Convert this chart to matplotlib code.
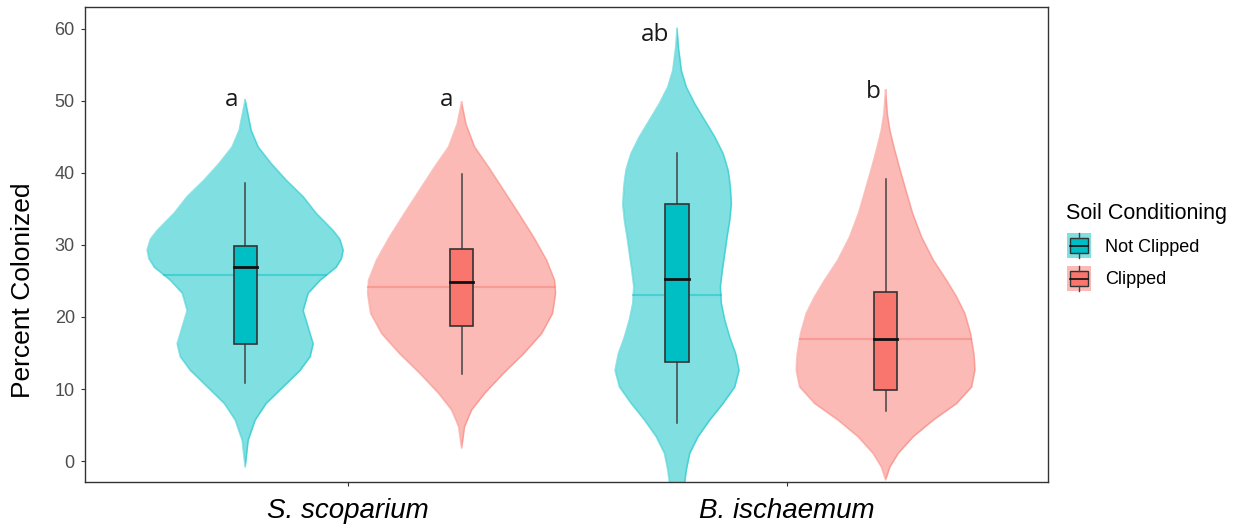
"""
Violin + box plot of percent root colonization by species and soil conditioning
"""
import numpy as np
import matplotlib
matplotlib.use("Agg")
from matplotlib import pyplot as plt
from matplotlib.patches import Rectangle

# Data
SPECIES = ["S. scoparium", "B. ischaemum"]
CONDITIONS = ["Not Clipped", "Clipped"]

# violin outline: y values and relative density (half-width) for each violin
# order: S.sco Not Clipped, S.sco Clipped, B.isc Not Clipped, B.isc Clipped
v1_y = [50.1, 45.9, 43.6, 41.3, 39.0, 36.7, 34.4, 32.0, 30.8, 29.3, 28.1,
        26.9, 25.1, 23.3, 20.9, 18.6, 16.3, 14.5, 12.6, 10.3, 8.0, 5.7,
        2.9, -0.8]
v1_d = [0, 6, 13, 26, 41, 58, 71, 88, 94.7, 98, 96.3,
        91, 75, 63, 58, 63, 68, 65, 55, 38, 21, 10,
        3, 0]

v2_y = [49.8, 46.8, 43.6, 40.8, 37.6, 34.4, 31.1, 27.9, 25.1, 23.3, 20.5,
        17.7, 14.9, 12.2, 9.4, 7.1, 4.8, 1.8]
v2_d = [0, 4.3, 13, 27, 42, 57, 72, 85, 93, 94, 91,
        80, 62, 42, 23, 10, 3, 0]

v3_y = [60.0, 57.5, 54.2, 51.9, 49.6, 47.3, 45.0, 42.7, 41.5, 40.4, 39.2,
        38.0, 35.7, 33.4, 31.1, 28.8, 26.5, 24.2, 21.9, 19.6, 17.2, 14.9,
        12.6, 10.3, 8.0, 5.7, 3.4, 1.1, -1.2, -2.9, -5.0]
v3_d = [0, 1.3, 4.3, 9.3, 17.7, 27.7, 37.7, 46, 48.7, 51, 52.3,
        53.3, 54.3, 52.7, 50, 47.7, 45.3, 43.3, 44.3, 47.7, 52.7, 58.7,
        62, 57.7, 46, 32.7, 21, 12.7, 9.3, 7.7, 5]

v4_y = [51.5, 48.2, 45.9, 43.6, 40.8, 37.6, 34.4, 31.1, 27.9, 25.1, 22.8,
        20.5, 17.7, 14.9, 13.7, 12.6, 10.3, 8.0, 5.7, 3.4, 1.1, -0.8, -2.6]
v4_d = [0, 1.7, 4.3, 8.3, 13.7, 20.3, 27, 36, 47.7, 61, 71,
        79.3, 85, 88.3, 89, 89.3, 86, 71, 47.7, 27.7, 12.7, 4.3, 0]

# box plot stats
whisker_lo = [10.9, 12.1, 5.3, 6.9]
q1 = [16.2, 18.7, 13.8, 9.9]
medians = [26.95, 24.9, 25.3, 17.0]
q3 = [29.9, 29.4, 35.7, 23.4]
whisker_hi = [38.6, 39.8, 42.7, 39.2]
means = [25.8, 24.2, 23.0, 17.0]

letters = ["a", "a", "ab", "b"]
letter_y = [50.1, 50.1, 59.1, 51.2]

# Layout / style
species_idx = [0, 0, 1, 1]
cond_idx = [0, 1, 0, 1]
DODGE = [-0.234, 0.259, -0.250, 0.225]
LETTER_DX = [-0.030, -0.033, -0.051, -0.029]
DENS_SCALE = 1 / 439.0
BOX_HALF = 0.0265
COLORS = ["#00BFC4", "#F8766D"]
FILLS = ["#7FDFE1", "#FBBAB6"]

plt.rcParams["font.family"] = ["Liberation Sans", "DejaVu Sans"]

fig = plt.figure(figsize=(12.46, 5.31), dpi=100)
ax = fig.add_axes([85 / 1246, 1 - 482 / 531, 963 / 1246, 475 / 531])

profiles = [(v1_y, v1_d), (v2_y, v2_d), (v3_y, v3_d), (v4_y, v4_d)]
for i, (vy, vd) in enumerate(profiles):
    c = cond_idx[i]
    x0 = species_idx[i] + 1 + DODGE[i]
    vy = np.array(vy)
    hw = np.array(vd) * DENS_SCALE
    ax.fill_betweenx(vy, x0 - hw, x0 + hw, color=FILLS[c], lw=0, zorder=1)
    ax.plot(np.r_[x0 - hw, (x0 + hw)[::-1]], np.r_[vy, vy[::-1]],
            color=COLORS[c], alpha=0.45, lw=1.2, zorder=2)
    # mean line across the violin
    w = np.interp(means[i], vy[::-1], hw[::-1])
    ax.plot([x0 - w, x0 + w], [means[i], means[i]], color=COLORS[c],
            alpha=0.45, lw=1.5, zorder=2)
    # whiskers
    ax.plot([x0, x0], [whisker_lo[i], q1[i]], color="#444444", lw=1.1, zorder=3)
    ax.plot([x0, x0], [q3[i], whisker_hi[i]], color="#444444", lw=1.1, zorder=3)
    # box
    ax.add_patch(Rectangle((x0 - BOX_HALF, q1[i]), 2 * BOX_HALF, q3[i] - q1[i],
                           facecolor=COLORS[c], edgecolor="#333333", lw=1.2,
                           zorder=4))
    ax.plot([x0 - BOX_HALF, x0 + BOX_HALF], [medians[i], medians[i]],
            color="#111111", lw=2.0, zorder=5)
    ax.text(x0 + LETTER_DX[i], letter_y[i], letters[i], ha="center",
            va="center", fontsize=17.5, family=["Open Sans", "DejaVu Sans"],
            color="#1a1a1a", zorder=6)

ax.set_xlim(0.401, 2.595)
ax.set_ylim(-2.9, 63.0)
ax.set_xticks([1, 2])
ax.set_xticklabels(SPECIES, fontsize=20, style="italic", color="black")
ax.set_yticks(np.arange(0, 61, 10))
ax.tick_params(axis="y", labelsize=13, labelcolor="#4D4D4D", color="#333333",
               length=3, width=0.8, pad=4.3)
ax.tick_params(axis="x", color="#333333", length=3, width=0.8, pad=8.5)
for s in ax.spines.values():
    s.set_color("#333333")
    s.set_linewidth(1.0)

fig.text(23 / 1246, 1 - 290 / 531, "Percent Colonized", rotation=90,
         ha="center", va="center", fontsize=19)

# Legend drawn in pixel coordinates
lax = fig.add_axes([0, 0, 1, 1], zorder=10)
lax.set_xlim(0, 1246)
lax.set_ylim(531, 0)
lax.axis("off")
lax.text(1066, 213, "Soil Conditioning", fontsize=15.5, va="center", ha="left")
for j, lab in enumerate(CONDITIONS):
    top = 233 + j * 33
    lax.add_patch(Rectangle((1067, top), 24, 25, facecolor=FILLS[j],
                            edgecolor="none"))
    lax.add_patch(Rectangle((1070, top + 5), 18, 15, facecolor=COLORS[j],
                            edgecolor="#333333", lw=1.0))
    lax.plot([1079, 1079], [top, top + 5], color="#444444", lw=1.0)
    lax.plot([1079, 1079], [top + 20, top + 25], color="#444444", lw=1.0)
    lax.plot([1070, 1088], [top + 12.5, top + 12.5], color="#111111", lw=1.2)
    lax.text(1105, top + 14, lab, fontsize=13, va="center", ha="left")

fig.savefig("out.png", dpi=100)
